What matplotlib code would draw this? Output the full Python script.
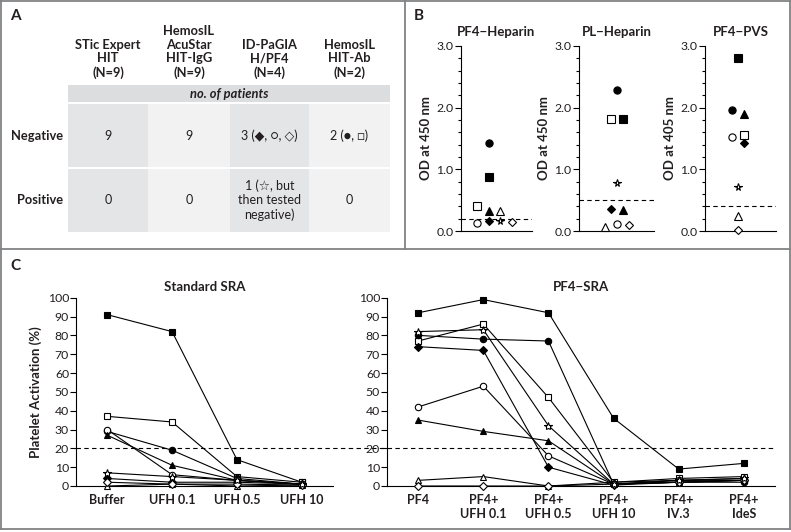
import matplotlib
matplotlib.use("Agg")
import matplotlib.pyplot as plt
from matplotlib.lines import Line2D
from matplotlib.patches import Rectangle

plt.rcParams['font.family'] = ['Lato', 'DejaVu Sans']

W, H = 791, 532

# ---- data ----
# marker style per patient (star last so it is drawn on top)
patients = ['sq_f', 'sq_o', 'ci_f', 'di_f', 'ci_o', 'tr_f', 'tr_o', 'di_o', 'star']
markers = {'sq_f': ('s', 'black'), 'sq_o': ('s', 'white'), 'star': ('*', 'white'),
           'ci_f': ('o', 'black'), 'di_f': ('D', 'black'), 'ci_o': ('o', 'white'),
           'tr_f': ('^', 'black'), 'tr_o': ('^', 'white'), 'di_o': ('D', 'white')}

# panel B: OD values and jitter slot for each patient
b_titles = ['PF4\u2212Heparin', 'PL\u2212Heparin', 'PF4\u2212PVS']
b_ylabels = ['OD at 450 nm', 'OD at 450 nm', 'OD at 405 nm']
b_cutoff = [0.2, 0.5, 0.4]
b_pf4hep = {'sq_f': 0.87, 'sq_o': 0.41, 'star': 0.16, 'ci_f': 1.43, 'di_f': 0.16,
            'ci_o': 0.13, 'tr_f': 0.32, 'tr_o': 0.32, 'di_o': 0.15}
b_pf4hep_slot = {'sq_f': 1, 'sq_o': 0, 'star': 2, 'ci_f': 1, 'di_f': 1,
                 'ci_o': 0, 'tr_f': 1, 'tr_o': 2, 'di_o': 3}
b_plhep = {'sq_f': 1.82, 'sq_o': 1.82, 'star': 0.78, 'ci_f': 2.29, 'di_f': 0.35,
           'ci_o': 0.12, 'tr_f': 0.34, 'tr_o': 0.07, 'di_o': 0.09}
b_plhep_slot = {'sq_f': 3, 'sq_o': 1, 'star': 2, 'ci_f': 2, 'di_f': 1,
                'ci_o': 2, 'tr_f': 3, 'tr_o': 0, 'di_o': 4}
b_pvs = {'sq_f': 2.80, 'sq_o': 1.55, 'star': 0.72, 'ci_f': 1.97, 'di_f': 1.43,
         'ci_o': 1.52, 'tr_f': 1.90, 'tr_o': 0.24, 'di_o': 0.02}
b_pvs_slot = {'sq_f': 1, 'sq_o': 2, 'star': 1, 'ci_f': 0, 'di_f': 2,
              'ci_o': 0, 'tr_f': 2, 'tr_o': 1, 'di_o': 1}

# panel C
std_labels = ['Buffer', 'UFH 0.1', 'UFH 0.5', 'UFH 10']
std_sra = {'sq_f': [91, 82, 14, 2], 'sq_o': [37, 34, 5, 2], 'ci_o': [30, 6, 3, 1],
           'ci_f': [29, 19, 4, 1], 'tr_f': [27, 11, 3, 1], 'star': [7, 5, 3, 1],
           'di_f': [4, 2, 2, 1], 'di_o': [2, 1, 1, 0.5], 'tr_o': [0, 1, 0, 0.5]}
pf4_labels = ['PF4', 'PF4+\nUFH 0.1', 'PF4+\nUFH 0.5', 'PF4+\nUFH 10', 'PF4+\nIV.3', 'PF4+\nIdeS']
pf4_sra = {'sq_f': [92, 99, 92, 36, 9, 12], 'sq_o': [77, 86, 47, 2, 4, 5],
           'star': [82, 83, 32, 1, 3, 4], 'ci_f': [80, 78, 77, 1, 2, 2],
           'di_f': [74, 72, 10, 0.5, 2, 3], 'ci_o': [42, 53, 16, 1, 3, 3],
           'tr_f': [35, 29, 24, 1, 2, 3], 'tr_o': [3, 5, 0, 2, 3, 4],
           'di_o': [0, 0, 0, 1, 2, 3]}

# panel A table
tests = ['STic Expert\nHIT\n(N=9)', 'HemosIL\nAcuStar\nHIT-IgG\n(N=9)',
         'ID-PaGIA\nH/PF4\n(N=4)', 'HemosIL\nHIT-Ab\n(N=2)']
neg = ['9', '9', '3 (\u25c6, \u25cb, \u25c7)', '2 (\u25cf, \u25a1)']
pos = ['0', '0', '1 (\u2606, but\nthen tested\nnegative)', '0']

txt = '#231f20'


def fx(px):
    return px / W


def fy(py):
    return 1 - py / H


def box(x0, y0, x1, y1):
    # pixel box -> axes rect
    return [fx(x0), fy(y1), fx(x1) - fx(x0), fy(y0) - fy(y1)]


fig = plt.figure(figsize=(W / 100, H / 100), dpi=100)

# frame
fc = '#808285'
for xs, ys in [([1, 790], [1, 1]), ([1, 790], [529, 529]), ([1, 1], [1, 529]),
               ([790, 790], [1, 529]), ([1, 790], [249, 249]), ([405, 405], [1, 249])]:
    fig.add_artist(Line2D([fx(v) for v in xs], [fy(v) for v in ys], color=fc, lw=1.3))

fig.text(fx(10), fy(16), 'A', fontsize=11, fontweight='bold', va='center', color=txt)
fig.text(fx(414), fy(16), 'B', fontsize=11, fontweight='bold', va='center', color=txt)
fig.text(fx(10), fy(266), 'C', fontsize=11, fontweight='bold', va='center', color=txt)

# ---- panel A ----
dark, light, band = '#e4e5e6', '#f2f2f3', '#dcdddf'
col_x = [68, 148, 230, 309, 390]
fig.add_artist(Rectangle((fx(68), fy(102)), fx(390) - fx(68), fy(85) - fy(102),
                         transform=fig.transFigure, color=band, lw=0))
for i in range(4):
    c = dark if i % 2 == 0 else light
    for (r0, r1) in [(104, 167), (169, 232)]:
        fig.add_artist(Rectangle((fx(col_x[i]), fy(r1)), fx(col_x[i + 1]) - fx(col_x[i]),
                                 fy(r0) - fy(r1), transform=fig.transFigure, color=c, lw=0))
    cx = (col_x[i] + col_x[i + 1]) / 2
    fig.text(fx(cx), fy(79), tests[i], ha='center', va='bottom', fontsize=9.3,
             fontweight='bold', linespacing=1.18, color=txt)
    fig.text(fx(cx), fy(136), neg[i], ha='center', va='center', fontsize=9,
             color=txt)
    fig.text(fx(cx), fy(200), pos[i], ha='center', va='center', fontsize=9,
             linespacing=1.2, color=txt)
fig.text(fx(229), fy(93.5), 'no. of patients', ha='center', va='center', fontsize=9.3,
         fontweight='bold', style='italic', color=txt)
fig.text(fx(63), fy(136), 'Negative', ha='right', va='center', fontsize=9.3,
         fontweight='bold', color=txt)
fig.text(fx(63), fy(200), 'Positive', ha='right', va='center', fontsize=9.3,
         fontweight='bold', color=txt)

# ---- panel B ----
b_vals = [b_pf4hep, b_plhep, b_pvs]
b_slots = [b_pf4hep_slot, b_plhep_slot, b_pvs_slot]
b_spine = [461, 579, 705]
b_end = [532, 654, 776]
b_first = [477, 605, 731.7]
b_unit = [11.7, 6.0, 6.2]
for k in range(3):
    ax = fig.add_axes(box(b_spine[k], 46, b_end[k], 231))
    for p in patients:
        m, f = markers[p]
        ms = 5.5 if m == '*' else (4.5 if m == 'D' else 5.2)
        ax.plot(b_slots[k][p], b_vals[k][p], marker=m, mfc=f, mec='black', mew=0.8,
                ms=ms, ls='none', clip_on=False, zorder=3)
    ax.axhline(b_cutoff[k], color='black', lw=0.8, ls=(0, (4, 3)))
    ax.set_xlim(-(b_first[k] - b_spine[k]) / b_unit[k], (b_end[k] - b_first[k]) / b_unit[k])
    ax.set_ylim(0, 3.0)
    ax.set_yticks([0, 1, 2, 3])
    ax.set_yticklabels(['0.0', '1.0', '2.0', '3.0'])
    ax.set_yticks([0.2, 0.4, 0.6, 0.8, 1.2, 1.4, 1.6, 1.8, 2.2, 2.4, 2.6, 2.8], minor=True)
    ax.set_xticks([])
    for s in ['top', 'right']:
        ax.spines[s].set_visible(False)
    for s in ['left', 'bottom']:
        ax.spines[s].set_linewidth(0.8)
    ax.tick_params(axis='y', which='major', length=4.5, width=0.8, labelsize=8.8, pad=1,
                   labelcolor=txt)
    ax.tick_params(axis='y', which='minor', length=2.5, width=0.8)
    ax.set_title(b_titles[k], fontsize=9.5, fontweight='bold', pad=7, color=txt)
    ax.set_ylabel(b_ylabels[k], fontsize=9.5, fontweight='bold', labelpad=3, color=txt)
    ax.patch.set_alpha(0)

# ---- panel C ----
ax1 = fig.add_axes(box(76, 297.7, 333, 486))
ax2 = fig.add_axes(box(387, 297.7, 775, 486))
for ax, data, labels in [(ax1, std_sra, std_labels), (ax2, pf4_sra, pf4_labels)]:
    x = list(range(len(labels)))
    for p in patients:
        m, f = markers[p]
        ms = 6 if m == '*' else (3.8 if m == 'D' else 4.6)
        ax.plot(x, data[p], color='black', lw=0.8, marker=m, mfc=f, mec='black',
                mew=0.8, ms=ms, clip_on=False, zorder=3)
    ax.set_xlim(-0.48, len(labels) - 1 + 0.48)
    ax.set_ylim(0, 100)
    ax.set_yticks(range(0, 101, 10))
    ax.set_xticks(x)
    ax.set_xticklabels(labels, fontweight='bold', fontsize=9, linespacing=1.15, color=txt)
    for s in ['top', 'right']:
        ax.spines[s].set_visible(False)
    for s in ['left', 'bottom']:
        ax.spines[s].set_linewidth(0.8)
    ax.tick_params(axis='y', length=4, width=0.8, labelsize=8.8, pad=1, labelcolor=txt)
    ax.tick_params(axis='x', length=0, pad=6)
    ax.patch.set_alpha(0)

ax1.set_title('Standard SRA', fontsize=9.5, fontweight='bold', pad=5, color=txt)
ax2.set_title('PF4\u2212SRA', fontsize=9.5, fontweight='bold', pad=5, color=txt)
ax1.set_ylabel('Platelet Activation (%)', fontsize=9.5, fontweight='bold', labelpad=4, color=txt)
# dashed cutoff across both plots
ax1.axhline(20, xmin=0, xmax=(773 - 76) / (333 - 76), color='black', lw=0.8,
            ls=(0, (4, 3)), clip_on=False, zorder=1)

fig.savefig('out.png', dpi=100)
